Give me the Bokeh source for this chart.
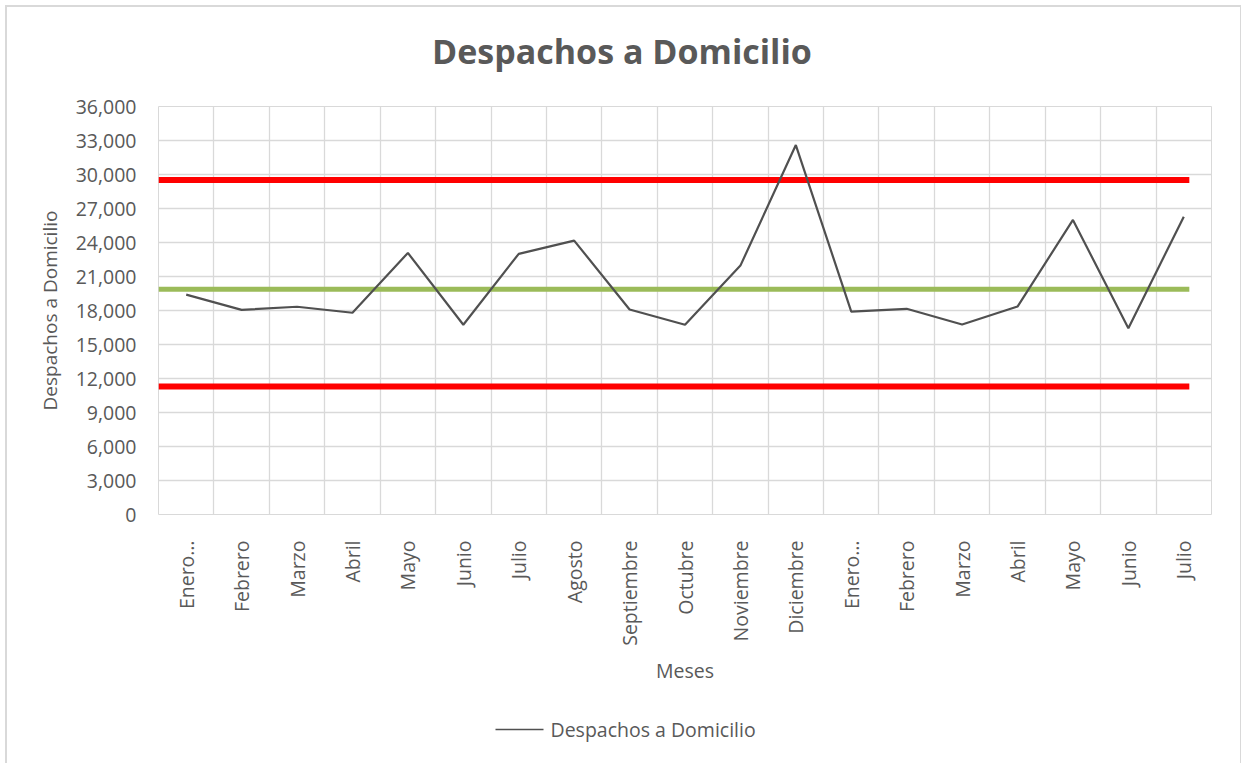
from bokeh.plotting import figure
from bokeh.layouts import column
from bokeh.models import Range1d, FixedTicker, NumeralTickFormatter
from bokeh.core.properties import value
from bokeh.embed import file_html
from bokeh.resources import INLINE

# Monthly home-delivery figures (two consecutive years, Jan..Jul of the second)
meses = ["Enero…", "Febrero", "Marzo", "Abril", "Mayo", "Junio", "Julio", "Agosto",
         "Septiembre", "Octubre", "Noviembre", "Diciembre",
         "Enero…", "Febrero", "Marzo", "Abril", "Mayo", "Junio", "Julio"]
despachos = [19400, 18060, 18330, 17800, 23080, 16740, 23000, 24170,
             18090, 16740, 21960, 32600,
             17900, 18150, 16770, 18350, 25990, 16440, 26280]

# Control limits and centre line
limite_superior = 29520
limite_inferior = 11300
media = 19870

y_ticks = list(range(0, 36001, 3000))

titulo = "Despachos a Domicilio"
serie_nombre = "Despachos a Domicilio"

FONT = "Open Sans"
GRAY_TXT = "#595959"
TXT = "19.5px"
SERIE_COLOR = "#505050"
W = 1233
BORDER_L, BORDER_R = 151, 29

n = len(meses)
xs = [i + 0.5 for i in range(n)]


def strip(height):
    """Blank strip with the chart's side borders; data units are figure pixels."""
    f = figure(width=W, height=height, output_backend="svg", toolbar_location=None,
               x_axis_type=None, y_axis_type=None,
               x_range=Range1d(BORDER_L, W - BORDER_R), y_range=Range1d(0, height),
               min_border_left=BORDER_L, min_border_right=BORDER_R,
               min_border_top=0, min_border_bottom=0)
    f.grid.visible = False
    f.outline_line_color = None
    f.border_fill_color = "white"
    f.background_fill_color = "white"
    return f


# Title strip
t = strip(79)
t.text(x=[W / 2 - 2], y=[36], text=[titulo], text_font=value(FONT),
       text_font_size="34px", text_font_style="bold", text_color=GRAY_TXT,
       text_align="center", text_baseline="middle")

# Main chart
p = figure(width=W, height=614, output_backend="svg", toolbar_location=None,
           x_range=Range1d(0, n), y_range=Range1d(0, 36000),
           min_border_left=BORDER_L, min_border_right=BORDER_R, min_border_top=20,
           min_border_bottom=186)
p.background_fill_color = "white"
p.border_fill_color = "white"
p.outline_line_color = "#d9d9d9"

p.yaxis.ticker = FixedTicker(ticks=y_ticks)
p.yaxis.formatter = NumeralTickFormatter(format="0,0")
p.xaxis.ticker = FixedTicker(ticks=xs)
p.xaxis.major_label_overrides = {x: m for x, m in zip(xs, meses)}
p.xaxis.major_label_orientation = 1.5708
for ax in (p.xaxis, p.yaxis):
    ax.axis_line_color = None
    ax.major_tick_line_color = None
    ax.minor_tick_line_color = None
    ax.major_label_text_font = FONT
    ax.major_label_text_font_size = TXT
    ax.major_label_text_color = GRAY_TXT
    ax.axis_label_text_font = FONT
    ax.axis_label_text_font_size = TXT
    ax.axis_label_text_font_style = "normal"
    ax.axis_label_text_color = GRAY_TXT
p.yaxis.axis_label = "Despachos a Domicilio"
p.yaxis.axis_label_text_font_size = "19px"
p.xaxis.axis_label = "Meses"
p.yaxis.major_label_standoff = 16
p.xaxis.major_label_standoff = 20
p.xaxis.axis_label_standoff = 8
p.yaxis.axis_label_standoff = 10

# Grid: horizontal at each tick, vertical between categories
p.ygrid.ticker = FixedTicker(ticks=y_ticks)
p.xgrid.ticker = FixedTicker(ticks=list(range(n + 1)))
p.xgrid.grid_line_color = "#d9d9d9"
p.ygrid.grid_line_color = "#d9d9d9"
p.xgrid.grid_line_width = 1.3
p.ygrid.grid_line_width = 1.3

# Limit and mean lines across the plot
x_lim = [0, n - 0.4]
p.line(x_lim, [limite_superior] * 2, line_color="#ff0000", line_width=6)
p.line(x_lim, [limite_inferior] * 2, line_color="#ff0000", line_width=6)
p.line(x_lim, [media] * 2, line_color="#9bbb59", line_width=5)

# Series
p.line(xs, despachos, line_color=SERIE_COLOR, line_width=2.2)

# Legend strip: line sample followed by the series name
lg = strip(63)
lg.line([488, 536], [34, 34], line_color=SERIE_COLOR, line_width=1.6)
lg.text(x=[543], y=[34], text=[serie_nombre], text_font=value(FONT),
        text_font_size=TXT, text_color=GRAY_TXT,
        text_align="left", text_baseline="middle")

layout = column(t, p, lg, spacing=0)
layout.margin = (5, 0, 0, 5)
layout.styles = {"border-left": "2px solid #d9d9d9", "border-top": "2px solid #d9d9d9",
                 "border-right": "2px solid #d9d9d9"}

open("out.html", "w").write(file_html(layout, INLINE))
